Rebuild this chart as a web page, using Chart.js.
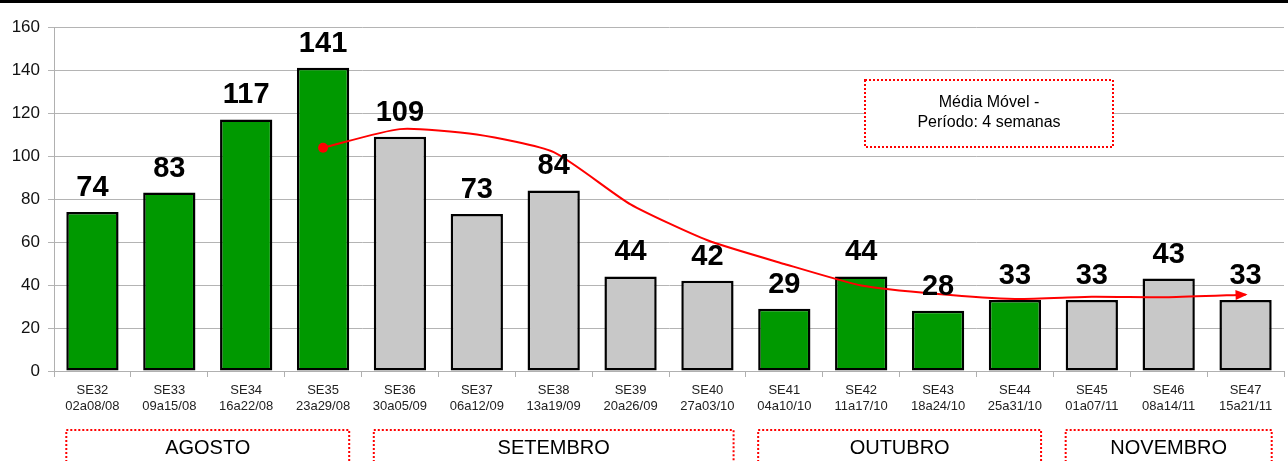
<!DOCTYPE html>
<html>
<head>
<meta charset="utf-8">
<script src="https://cdn.jsdelivr.net/npm/chart.js@4/dist/chart.umd.min.js"></script>
<style>
  html, body { margin: 0; padding: 0; background: #fff; }
  #wrap { width: 1288px; height: 461px; position: relative; }
</style>
</head>
<body>
<div id="wrap"><canvas id="casosChart"></canvas></div>
<script>
// dados
const semanas = ['SE32', 'SE33', 'SE34', 'SE35', 'SE36', 'SE37', 'SE38', 'SE39', 'SE40', 'SE41', 'SE42', 'SE43', 'SE44', 'SE45', 'SE46', 'SE47'];
const periodos = ['02a08/08', '09a15/08', '16a22/08', '23a29/08', '30a05/09', '06a12/09', '13a19/09', '20a26/09', '27a03/10', '04a10/10', '11a17/10', '18a24/10', '25a31/10', '01a07/11', '08a14/11', '15a21/11'];
const casos = [74, 83, 117, 141, 109, 73, 84, 44, 42, 29, 44, 28, 33, 33, 43, 33];
const mediaMovel = [null, null, null, 103.8, 112.5, 110, 101.8, 77.5, 60.8, 49.8, 39.8, 35.8, 33.5, 34.5, 34.3, 35.5];
const corBarra = ['#009900', '#009900', '#009900', '#009900', '#c8c8c8', '#c8c8c8', '#c8c8c8', '#c8c8c8', '#c8c8c8', '#009900', '#009900', '#009900', '#009900', '#c8c8c8', '#c8c8c8', '#c8c8c8'];
const meses = [
    { nome: 'AGOSTO', ini: 0, fim: 3 },
    { nome: 'SETEMBRO', ini: 4, fim: 8 },
    { nome: 'OUTUBRO', ini: 9, fim: 12 },
    { nome: 'NOVEMBRO', ini: 13, fim: 15 }
];
const yTicks = [0, 20, 40, 60, 80, 100, 120, 140, 160];

// Rotulos sobre as barras, caixas dos meses, seta e caixa de legenda
const extras = {
    id: 'extras',
    afterDatasetsDraw(chart) {
        const ctx = chart.ctx;
        const area = chart.chartArea;
        const bars = chart.getDatasetMeta(1).data;

        // valores acima das barras
        ctx.save();
        ctx.fillStyle = '#000';
        ctx.font = 'bold 29px "Liberation Sans", Arial, sans-serif';
        ctx.textAlign = 'center';
        ctx.textBaseline = 'alphabetic';
        bars.forEach((b, i) => {
            ctx.fillText(String(casos[i]), b.x, b.y - 16);
        });
        ctx.restore();

        // seta no fim da media movel
        const linha = chart.getDatasetMeta(0).data;
        const p1 = linha[linha.length - 1];
        const p0 = linha[linha.length - 2];
        const ang = Math.atan2(p1.y - p0.y, p1.x - p0.x);
        ctx.save();
        ctx.fillStyle = '#ff0000';
        ctx.translate(p1.x, p1.y);
        ctx.rotate(ang);
        ctx.beginPath();
        ctx.moveTo(2, 0);
        ctx.lineTo(-10, -5);
        ctx.lineTo(-10, 5);
        ctx.closePath();
        ctx.fill();
        ctx.restore();

        // caixas dos meses
        ctx.save();
        ctx.strokeStyle = '#ff0000';
        ctx.lineWidth = 2;
        ctx.setLineDash([2, 2]);
        ctx.font = '20px "Liberation Sans", Arial, sans-serif';
        ctx.fillStyle = '#000';
        ctx.textAlign = 'center';
        ctx.textBaseline = 'middle';
        meses.forEach(m => {
            const a = bars[m.ini], z = bars[m.fim];
            const x0 = a.x - a.width / 2, x1 = z.x + z.width / 2;
            const top = area.bottom + 59;
            ctx.beginPath();
            ctx.moveTo(x0, chart.height + 5);
            ctx.lineTo(x0, top);
            ctx.lineTo(x1, top);
            ctx.lineTo(x1, chart.height + 5);
            ctx.stroke();
            ctx.fillText(m.nome, (x0 + x1) / 2, top + 18);
        });
        ctx.restore();

        // caixa "Media Movel"
        const bx = area.left + 811, by = area.top + 53, bw = 248, bh = 67;
        ctx.save();
        ctx.fillStyle = '#fff';
        ctx.fillRect(bx, by, bw, bh);
        ctx.strokeStyle = '#ff0000';
        ctx.lineWidth = 2;
        ctx.setLineDash([2, 2]);
        ctx.strokeRect(bx, by, bw, bh);
        ctx.fillStyle = '#000';
        ctx.font = '16px "Liberation Sans", Arial, sans-serif';
        ctx.textAlign = 'center';
        ctx.textBaseline = 'middle';
        ctx.fillText('Média Móvel -', bx + bw / 2, by + 23);
        ctx.fillText('Período: 4 semanas', bx + bw / 2, by + 43);
        ctx.restore();

        // linha preta no topo
        ctx.save();
        ctx.fillStyle = '#000';
        ctx.fillRect(0, 0, chart.width, 3);
        ctx.restore();
    }
};

const ctx = document.getElementById('casosChart').getContext('2d');
new Chart(ctx, {
    data: {
        labels: semanas.map((s, i) => [s, periodos[i]]),
        datasets: [
            {
                type: 'line',
                label: 'Média Móvel',
                data: mediaMovel,
                borderColor: '#ff0000',
                borderWidth: 2,
                tension: 0.2,
                pointRadius: mediaMovel.map((v, i) => i === 3 ? 5 : 0),
                pointBackgroundColor: '#ff0000',
                pointBorderWidth: 0,
                spanGaps: false,
                order: 0
            },
            {
                type: 'bar',
                label: 'Casos',
                data: casos,
                backgroundColor: corBarra,
                borderColor: '#000',
                borderWidth: 2.5,
                borderSkipped: false,
                categoryPercentage: 1,
                barPercentage: 0.68,
                order: 1
            }
        ]
    },
    options: {
        responsive: true,
        maintainAspectRatio: false,
        animation: false,
        layout: { padding: { top: 27, right: 4, left: 0, bottom: 0 } },
        plugins: {
            legend: { display: false },
            tooltip: { enabled: false }
        },
        scales: {
            x: {
                offset: true,
                afterFit: s => { s.height = 90; },
                grid: {
                    display: true,
                    offset: true,
                    drawOnChartArea: false,
                    tickLength: 6,
                    color: '#b0b0b0'
                },
                border: { color: '#b0b0b0', width: 1 },
                ticks: {
                    color: '#222',
                    font: { family: '"Liberation Sans", Arial, sans-serif', size: 13 },
                    padding: 6,
                    maxRotation: 0,
                    autoSkip: false
                }
            },
            y: {
                min: 0,
                max: 160,
                afterFit: s => { s.width = 54; },
                afterBuildTicks: s => { s.ticks = yTicks.map(v => ({ value: v })); },
                grid: {
                    color: '#b4b4b4',
                    tickLength: 6
                },
                border: { color: '#b0b0b0', width: 1 },
                ticks: {
                    color: '#111',
                    font: { family: '"Liberation Sans", Arial, sans-serif', size: 17 },
                    padding: 8
                }
            }
        }
    },
    plugins: [extras]
});
</script>
</body>
</html>
